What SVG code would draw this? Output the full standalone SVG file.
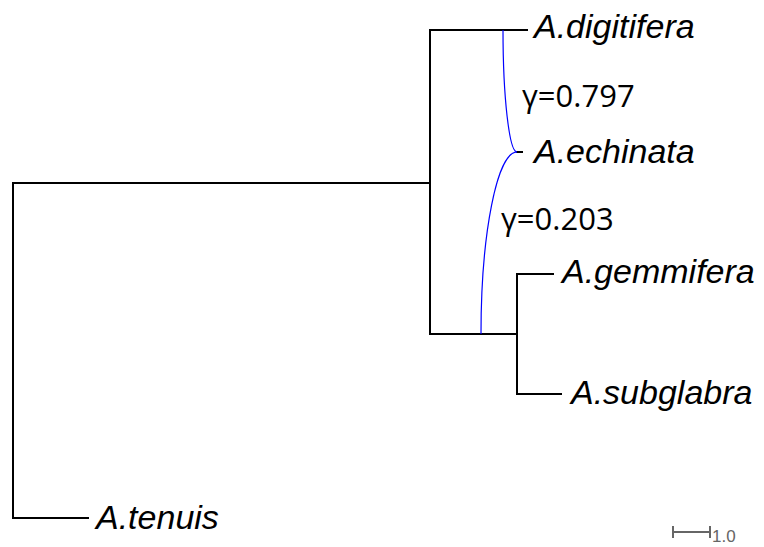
<svg xmlns="http://www.w3.org/2000/svg" width="764" height="547" viewBox="0 0 764 547">
  <style>
    .edge { fill: none; stroke: #000; stroke-width: 2; stroke-linecap: square; }
    .hyb { fill: none; stroke: #0000ff; stroke-width: 1.2; }
    .tip { font-family: "Liberation Sans", Arial, sans-serif; font-style: italic; font-size: 34px; fill: #000; }
    .gamma { font-family: "Open Sans", "Noto Sans", sans-serif; font-size: 31px; fill: #000; }
    .scale { fill: none; stroke: #666; stroke-width: 2; }
    .scale-label { font-family: "Liberation Sans", Arial, sans-serif; font-size: 17px; fill: #666; }
  </style>
  <rect width="764" height="547" fill="#fff"/>

  <!-- tree branches -->
  <g id="edges">
    <path class="edge" d="M13,183 H430 M13,183 V518 H88"/>
    <path class="edge" d="M430,30 V334 M430,30 H527 M430,334 H517"/>
    <path class="edge" d="M517,274 V394 M517,274 H553 M517,394 H561"/>
    <path class="edge" d="M517,152 H522"/>
  </g>

  <!-- hybridization edges -->
  <g id="reticulations">
    <path class="hyb" d="M503,30 A14,122 0 0 0 517,152"/>
    <path class="hyb" d="M481,334 A36,182 0 0 1 517,152"/>
    <text class="gamma" x="522" y="107">γ=0.797</text>
    <text class="gamma" x="501" y="230">γ=0.203</text>
  </g>

  <g id="digitifera"><text class="tip" x="534" y="38">A.digitifera</text></g>
  <g id="echinata"><text class="tip" x="534" y="163">A.echinata</text></g>
  <g id="gemmifera"><text class="tip" x="562" y="283">A.gemmifera</text></g>
  <g id="subglabra"><text class="tip" x="571" y="404">A.subglabra</text></g>
  <g id="tenuis"><text class="tip" x="96" y="529">A.tenuis</text></g>

  <!-- scale bar -->
  <g id="scalebar">
    <path class="scale" d="M673,532 H710 M673,526 V538 M710,526 V538"/>
    <text class="scale-label" x="712" y="542">1.0</text>
  </g>
</svg>
